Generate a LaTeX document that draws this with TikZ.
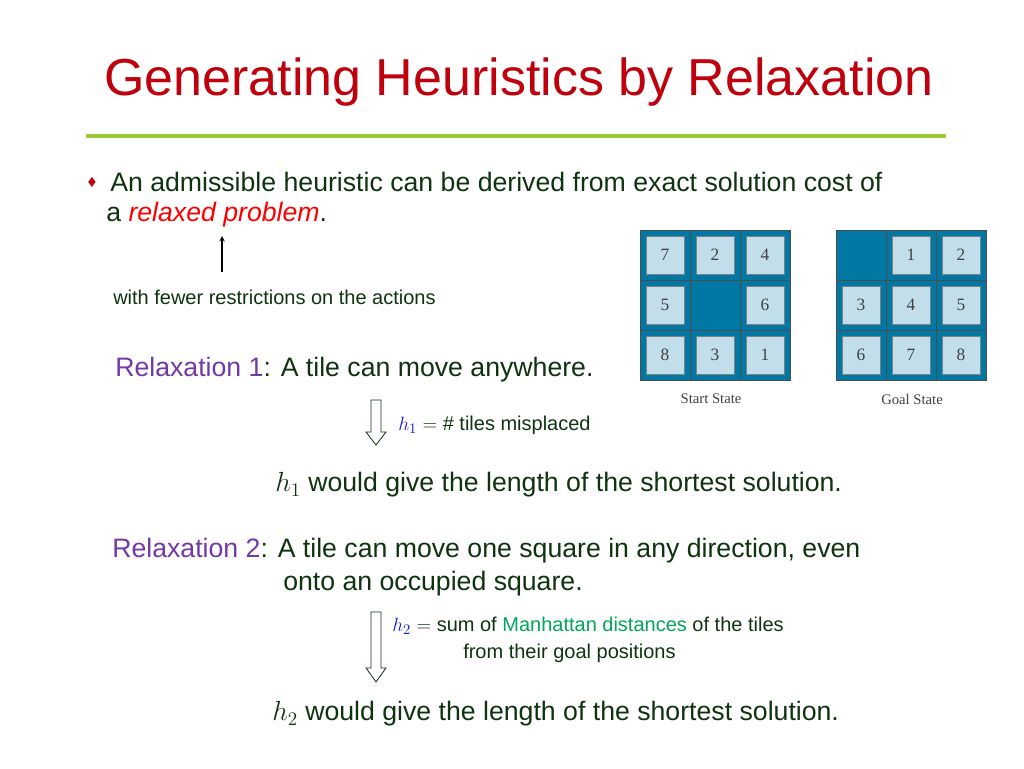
\documentclass[tikz,border=0pt]{standalone}
\usepackage{fontspec}
\setmainfont{Liberation Sans}
\newfontfamily\timesf{Liberation Serif}
\definecolor{txt}{rgb}{0.06,0.2,0.06}
\definecolor{ttl}{rgb}{0.75,0.0,0.05}
\definecolor{rule}{rgb}{0.6,0.8,0.2}
\definecolor{purp}{rgb}{0.45,0.22,0.65}
\definecolor{board}{rgb}{0.0,0.47,0.64}
\definecolor{tilec}{rgb}{0.76,0.87,0.92}
\definecolor{mgreen}{rgb}{0.0,0.65,0.35}
\definecolor{hblue}{rgb}{0.1,0.1,0.8}
\begin{document}
\begin{tikzpicture}[x=0.75pt,y=-0.75pt,
  body/.style={anchor=west,inner sep=0,text=txt,font=\fontsize{20}{24}\selectfont},
  small/.style={anchor=west,inner sep=0,text=txt,font=\fontsize{15}{18}\selectfont},
  cell/.style={draw=black!70,fill=board,minimum size=37.5pt,inner sep=0},
  tile/.style={draw=black!50,fill=tilec,minimum size=28.5pt,inner sep=0,font=\timesf\fontsize{13}{15}\selectfont,text=black!75},
  boardcap/.style={font=\timesf\fontsize{11}{13}\selectfont,text=black!75},
  hollow/.style={draw=txt,fill=white,line width=0.6pt}]
\useasboundingbox (0,0) rectangle (1024,768);
\node[anchor=west,inner sep=0,text=ttl,font=\fontsize{39}{44}\selectfont] (title) at (104,82) {Generating Heuristics by Relaxation};
\draw[rule,line width=3.5pt] (86,136) -- (946,136);
\node[anchor=center,inner sep=0,text=ttl,font=\fontsize{13}{15}\selectfont] (bul) at (92,182) {♦};
\node[body] (l1) at (110,182) {An admissible heuristic can be derived from exact solution cost of};
\node[body] (l2) at (106,215) {a \textcolor{red}{\itshape relaxed problem}.};
\node[small] (few) at (113,297) {with fewer restrictions on the actions};
\coordinate (ua) at (222,272);
\coordinate (ub) at (222,236);
\draw[-stealth,line width=0.8pt] (ua) -- (ub);
\node[body] (r1) at (115,370) {\textcolor{purp}{Relaxation 1}: A tile can move anywhere.};
\node[small] (h1d) at (398,425) {\textcolor{hblue}{$h_1$} $=$ \# tiles misplaced};
\node[body] (h1w) at (275,485) {\textcolor{txt}{$h_1$} would give the length of the shortest solution.};
\node[body] (r2) at (112,551) {\textcolor{purp}{Relaxation 2}: A tile can move one square in any direction, even};
\node[body] (r2b) at (283,584) {onto an occupied square.};
\node[small] (h2d) at (392,626) {\textcolor{hblue}{$h_2$} $=$ sum of \textcolor{mgreen}{Manhattan distances} of the tiles};
\node[small] (h2e) at (463,653) {from their goal positions};
\node[body] (h2w) at (272,714) {\textcolor{txt}{$h_2$} would give the length of the shortest solution.};
% hollow arrows
\draw[hollow] (371,400) -- (381,400) -- (381,432) -- (386,432) -- (376,445) -- (366,432) -- (371,432) -- cycle;
\draw[hollow] (371,612) -- (381,612) -- (381,668) -- (386,668) -- (376,682) -- (366,668) -- (371,668) -- cycle;
% boards
\foreach \n [count=\i from 0] in {7,2,4,5,,6,8,3,1} {
  \pgfmathtruncatemacro\c{mod(\i,3)}
  \pgfmathtruncatemacro\r{div(\i,3)}
  \node[cell] (s\i) at (665+\c*50,255+\r*50) {};
  \ifx\n\empty\else \node[tile] (st\i) at (s\i) {\n}; \fi
}
\foreach \n [count=\i from 0] in {,1,2,3,4,5,6,7,8} {
  \pgfmathtruncatemacro\c{mod(\i,3)}
  \pgfmathtruncatemacro\r{div(\i,3)}
  \node[cell] (g\i) at (861+\c*50,255+\r*50) {};
  \ifx\n\empty\else \node[tile] (gt\i) at (g\i) {\n}; \fi
}
\node[boardcap] (sc) at (711,399) {Start State};
\node[boardcap] (gc) at (912,399) {Goal State};
\end{tikzpicture}
\end{document}
